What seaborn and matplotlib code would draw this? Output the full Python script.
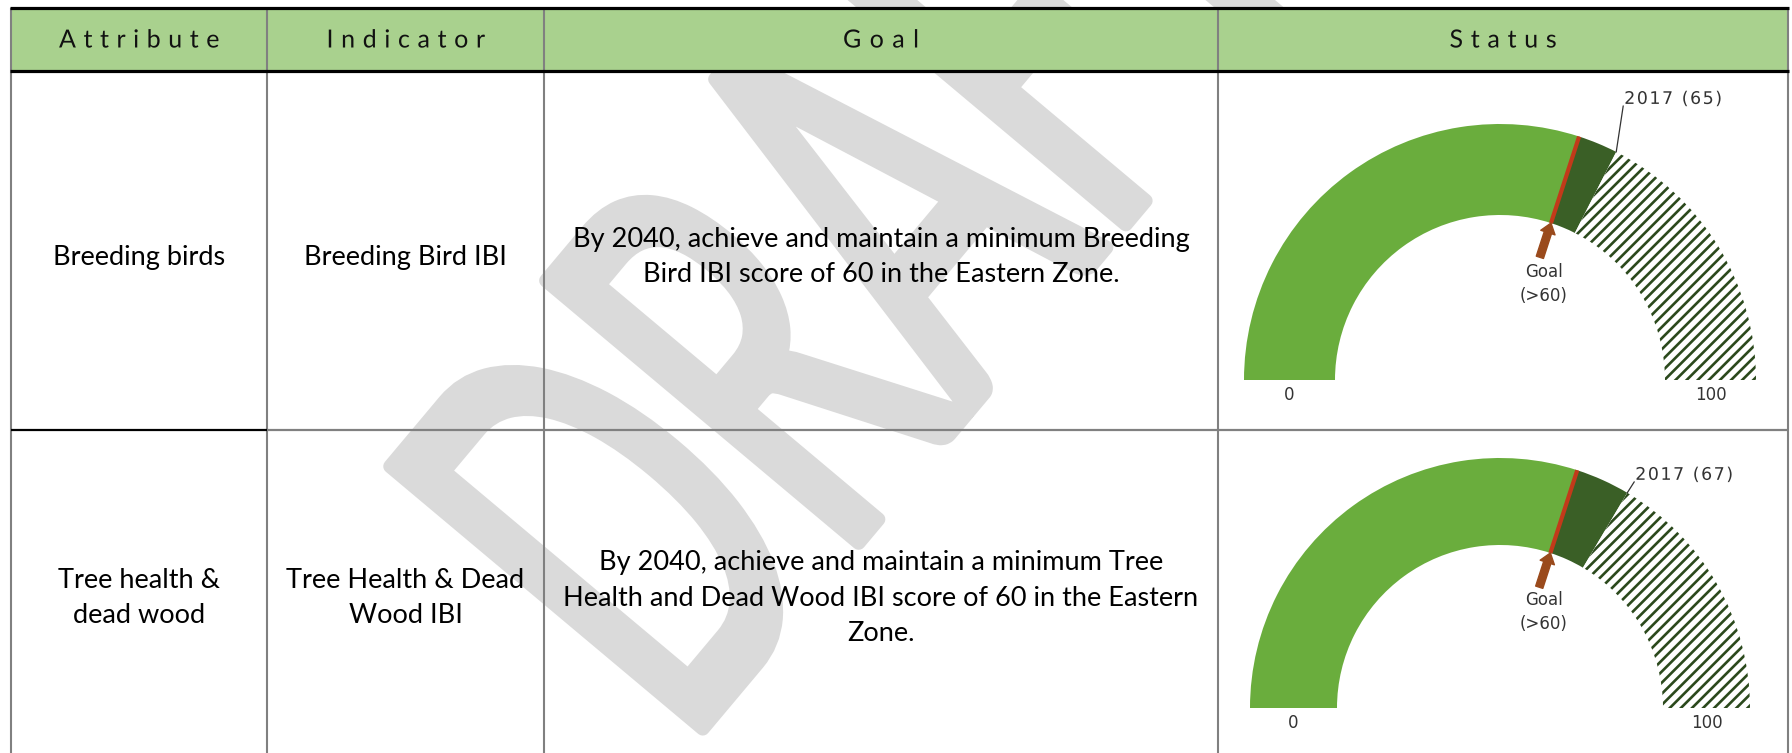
import numpy as np
import matplotlib
matplotlib.use("Agg")
import matplotlib.pyplot as plt
import seaborn as sns
from matplotlib.patches import Wedge, Rectangle
from matplotlib.patheffects import AbstractPathEffect
from matplotlib.transforms import Affine2D
from matplotlib.font_manager import FontProperties, findfont, get_font
from matplotlib.textpath import TextPath
from matplotlib.path import Path
from matplotlib.colors import to_rgb

try:
    from matplotlib.ft2font import LoadFlags
    NO_HINT = LoadFlags.NO_HINTING
except Exception:  # older matplotlib
    from matplotlib.ft2font import LOAD_NO_HINTING as NO_HINT

# ---------------- data ----------------
headers = ["Attribute", "Indicator", "Goal", "Status"]
attributes = ["Breeding birds", "Tree health &\ndead wood"]
indicators = ["Breeding Bird IBI", "Tree Health & Dead\nWood IBI"]
goals = [
    "By 2040, achieve and maintain a minimum Breeding\nBird IBI score of 60 in the Eastern Zone.",
    "By 2040, achieve and maintain a minimum Tree\nHealth and Dead Wood IBI score of 60 in the Eastern\nZone.",
]
status_years = ["2017", "2017"]
status_values = [65, 67]
goal_values = [60, 60]
goal_labels = ["Goal\n(>60)", "Goal\n(>60)"]
scale_min, scale_max = 0, 100
watermark = "DRAFT"

# ---------------- style / layout ----------------
sns.set_theme(style="white")
BODY = ["Lato", "DejaVu Sans"]
GAUGE_FONT = ["DejaVu Sans"]
plt.rcParams["font.family"] = BODY
plt.rcParams["hatch.linewidth"] = 1.9

W, H = 1792, 753
fig = plt.figure(figsize=(W / 100, H / 100), dpi=100)
fig.patch.set_facecolor("white")
ax = fig.add_axes([0, 0, 1, 1])
ax.set_xlim(0, W)
ax.set_ylim(H, 0)
ax.axis("off")
renderer = fig.canvas.get_renderer()

col_x = [11, 267, 544, 1218, 1788]
top_y, head_y, row_y, bot_y = 7.5, 71, 430, H + 5
row_center_y = [257, 598]

HEADER_GREEN = "#a9d18e"
GRID_GRAY = "#808080"
LIGHT_G = "#6aad3d"
DARK_G = "#3a5f26"
HATCH_G = "#2b491c"
RED = "#c23a1a"
BROWN = "#9a4a1c"
WM_GRAY = "#dadada"


class Tracked(AbstractPathEffect):
    """Draw the text glyph by glyph with extra letter spacing (in em)."""

    def __init__(self, text, family, track_em, align="center"):
        super().__init__()
        self.text = text
        self.prop = FontProperties(family=family)
        self.track = track_em * 100.0
        self.align = align

    def draw_path(self, renderer, gc, tpath, affine, rgbFace=None):
        font = get_font(findfont(self.prop))
        font.set_size(100, 72)
        n = len(self.text)
        x = -(n - 1) * self.track / 2 if self.align == "center" else 0.0
        paths = []
        for ch in self.text:
            g = font.load_char(ord(ch), flags=NO_HINT)
            adv = g.linearHoriAdvance / 65536
            if ch.strip():
                paths.append(TextPath((x, 0), ch, size=100, prop=self.prop))
            x += adv + self.track
        renderer.draw_path(gc, Path.make_compound_path(*paths), affine, rgbFace)


class Stretched(AbstractPathEffect):
    """Watermark style: glyphs stretched along their own axes, softly stroked."""

    def __init__(self, sx, sy, color, lw):
        super().__init__()
        self.sx, self.sy, self.rgb, self.lw = sx, sy, to_rgb(color), lw

    def draw_path(self, renderer, gc, tpath, affine, rgbFace=None):
        gc0 = renderer.new_gc()
        gc0.copy_properties(gc)
        gc0.set_linewidth(self.lw)
        gc0.set_foreground(self.rgb)
        gc0.set_joinstyle("round")
        gc0.set_capstyle("round")
        renderer.draw_path(gc0, tpath, Affine2D().scale(self.sx, self.sy) + affine, self.rgb)
        gc0.restore()


def natural_width(text, family, size):
    t = ax.text(0, 0, text, fontsize=size, family=family)
    w = t.get_window_extent(renderer).width
    t.remove()
    return w


def fit_size(text, family, target_w):
    return 20 * target_w / natural_width(text, family, 20)


def fit_linespacing(size, family, pitch):
    t1 = ax.text(0, 0, "lp", fontsize=size, family=family, linespacing=1.0)
    t2 = ax.text(0, 0, "lp\nlp", fontsize=size, family=family, linespacing=1.0)
    h1 = t1.get_window_extent(renderer).height
    h2 = t2.get_window_extent(renderer).height
    t1.remove(); t2.remove()
    return pitch / (h2 - h1)


body_size = fit_size("By 2040, achieve and maintain a minimum Breeding", BODY, 618)
body_ls = fit_linespacing(body_size, BODY, 38.0)

# ---------------- watermark ----------------
ax.text(684, 751, watermark, fontsize=410, family=BODY, color=WM_GRAY,
        rotation=50, rotation_mode="anchor", ha="left", va="baseline", zorder=0,
        path_effects=[Stretched(0.56, 1.0, WM_GRAY, 10)])

# ---------------- table ----------------
ax.add_patch(Rectangle((col_x[0], top_y), col_x[-1] - col_x[0], head_y - top_y,
                       facecolor=HEADER_GREEN, edgecolor="none", zorder=1))
for x in col_x:
    ax.plot([x, x], [top_y, bot_y], color=GRID_GRAY, lw=1.5, zorder=2,
            solid_capstyle="butt")
ax.plot([col_x[0] - 1, col_x[-1] + 1], [top_y, top_y], color="black", lw=2.3, zorder=3,
        solid_capstyle="butt")
ax.plot([col_x[0] - 1, col_x[-1] + 1], [head_y, head_y], color="black", lw=2.3, zorder=3,
        solid_capstyle="butt")
ax.plot([col_x[0], col_x[1]], [row_y, row_y], color="black", lw=1.6, zorder=3,
        solid_capstyle="butt")
ax.plot([col_x[1], col_x[-1]], [row_y, row_y], color=GRID_GRAY, lw=1.6, zorder=3,
        solid_capstyle="butt")

HEAD_SIZE = 18
head_target_w = [160, 158, 76, 107]
for i, h in enumerate(headers):
    cx = (col_x[i] + col_x[i + 1]) / 2
    nat = natural_width(h, BODY, HEAD_SIZE)
    em_px = HEAD_SIZE * 100 / 72
    track = max(0.0, (head_target_w[i] - nat) / (len(h) - 1) / em_px)
    ax.text(cx, 40, h, ha="center", va="center", fontsize=HEAD_SIZE, family=BODY,
            color="#111111", zorder=4, path_effects=[Tracked(h, BODY, track)])

for r in range(2):
    cy = row_center_y[r]
    for c, txt in enumerate([attributes[r], indicators[r], goals[r]]):
        cx = (col_x[c] + col_x[c + 1]) / 2
        ax.text(cx, cy, txt, ha="center", va="center", multialignment="center",
                fontsize=body_size, family=BODY, linespacing=body_ls,
                color="black", zorder=4)

# ---------------- gauges ----------------
g_cx = 1500
g_cy = [380, 708]
r_out = [256, 250]
r_in = [165, 163]
label_dy = [48, 13]
GAUGE_TXT = "#333333"


def ang(v):
    return 180 - 180 * (v - scale_min) / (scale_max - scale_min)


for r in range(2):
    cy = g_cy[r]
    Ro, Ri = r_out[r], r_in[r]
    gax = fig.add_axes([(g_cx - 290) / W, 1 - (cy + 45) / H, 580 / W, 345 / H])
    gax.set_xlim(-290, 290)
    gax.set_ylim(-45, 300)
    gax.axis("off")
    gax.patch.set_alpha(0)

    val, goal = status_values[r], goal_values[r]
    a_goal, a_val = ang(goal), ang(val)
    gax.add_patch(Wedge((0, 0), Ro, a_goal, ang(scale_min), width=Ro - Ri,
                        facecolor=LIGHT_G, edgecolor="none"))
    gax.add_patch(Wedge((0, 0), Ro, a_val, a_goal, width=Ro - Ri,
                        facecolor=DARK_G, edgecolor="none"))
    gax.add_patch(Wedge((0, 0), Ro, ang(scale_max), a_val, width=Ro - Ri,
                        facecolor="white", edgecolor=HATCH_G, lw=0, hatch="///"))

    tg = np.deg2rad(a_goal)
    gax.plot([Ri * np.cos(tg), Ro * np.cos(tg)], [Ri * np.sin(tg), Ro * np.sin(tg)],
             color=RED, lw=3, solid_capstyle="butt")
    gax.annotate("", xy=(Ri * np.cos(tg), Ri * np.sin(tg)),
                 xytext=((Ri - 36) * np.cos(tg), (Ri - 36) * np.sin(tg)),
                 arrowprops=dict(arrowstyle="simple,head_length=0.6,head_width=0.9,tail_width=0.45",
                                 color=BROWN, mutation_scale=12, shrinkA=0, shrinkB=0))
    gax.text(44, 96, goal_labels[r], ha="center", va="center", multialignment="center",
             fontsize=12, family=GAUGE_FONT, color=GAUGE_TXT, linespacing=1.4)

    gax.text(-(Ro + Ri) / 2, -15, str(scale_min), ha="center", va="center",
             fontsize=12, family=GAUGE_FONT, color=GAUGE_TXT)
    gax.text((Ro + Ri) / 2, -15, str(scale_max), ha="center", va="center",
             fontsize=12, family=GAUGE_FONT, color=GAUGE_TXT)

    tv = np.deg2rad(a_val)
    px, py = Ro * np.cos(tv), Ro * np.sin(tv)
    dy = label_dy[r]
    gax.plot([px, px + 7], [py, py + dy - 2], color=GAUGE_TXT, lw=0.9)
    lab = f"{status_years[r]} ({val})"
    gax.text(px + 8, py + dy, lab, ha="left", va="baseline",
             fontsize=12.5, family=GAUGE_FONT, color=GAUGE_TXT,
             path_effects=[Tracked(lab, GAUGE_FONT, 0.09, align="left")])

fig.savefig("out.png", dpi=100, facecolor="white")
